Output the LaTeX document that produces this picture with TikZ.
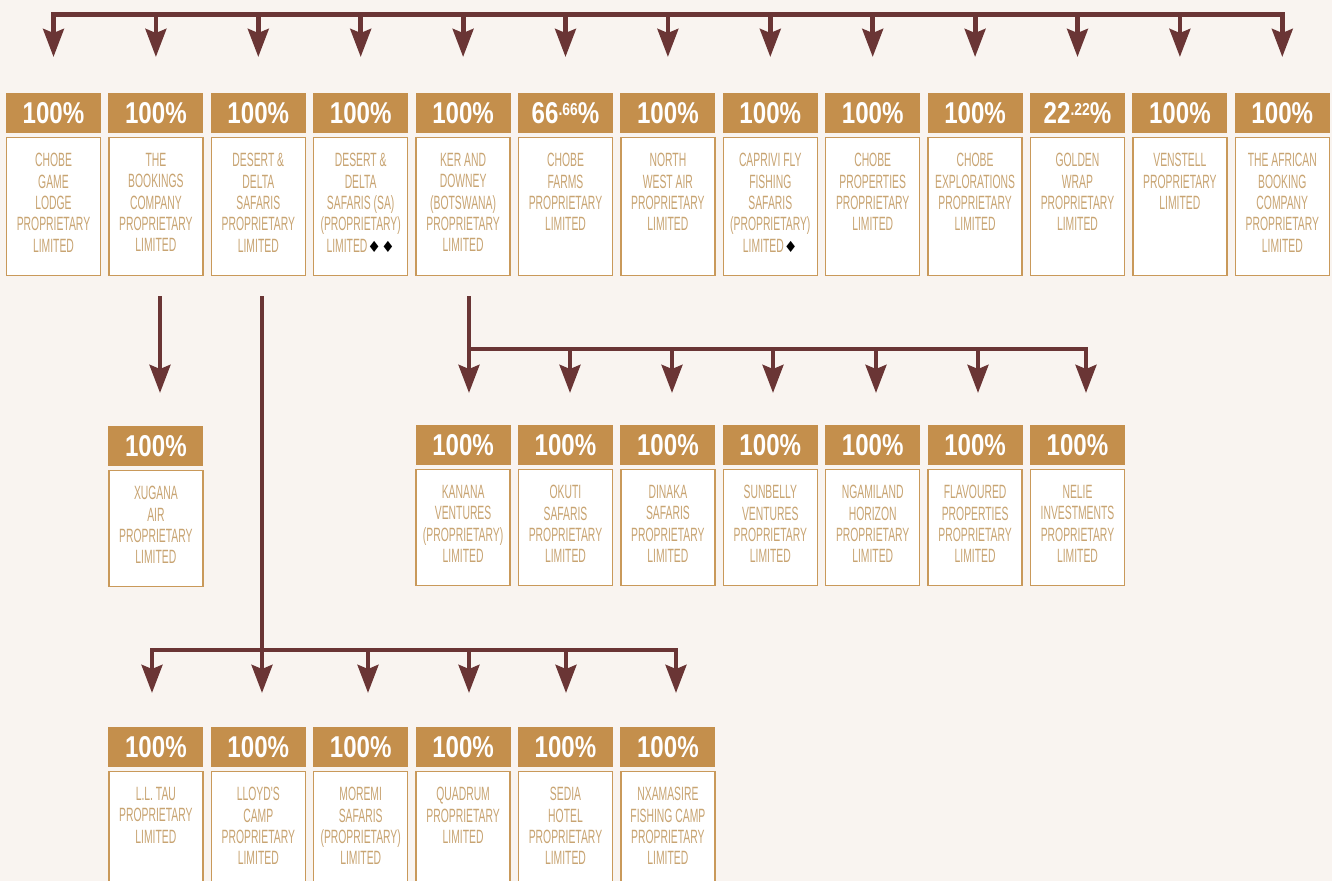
\documentclass[tikz,border=0pt]{standalone}
\usepackage{fontspec}
\usetikzlibrary{arrows.meta}
\newfontfamily\bodyfont[FakeStretch=0.54]{Liberation Sans}
\newfontfamily\hdrfont[FakeStretch=0.8]{Liberation Sans}
\newfontfamily\symfont{DejaVu Sans}
\definecolor{bgc}{HTML}{F9F4F0}
\definecolor{hdrc}{HTML}{C48F4C}
\definecolor{boxc}{HTML}{C9995A}
\definecolor{txtc}{HTML}{C8A472}
\definecolor{arrc}{HTML}{6A3535}
\newcommand\pctsup[1]{\raisebox{6.3pt}{\fontsize{13}{13}\selectfont #1}}
\newcommand\dmd[1]{{\symfont\fontsize{11.5}{11}\selectfont\color{black}#1}}
\tikzset{
 hdr/.style={anchor=north, fill=hdrc, minimum width=71.25pt, minimum height=30pt, inner sep=0pt, text=white, font=\hdrfont\bfseries\fontsize{22.6}{24}\selectfont},
 bodybox/.style={anchor=north, draw=boxc, fill=white, line width=1.1pt, minimum width=70.5pt, inner sep=0pt},
 bodytxt/.style={anchor=north, align=center, inner sep=0pt, text=txtc, font=\bodyfont\fontsize{14.4}{16}\selectfont},
 conn/.style={draw=arrc, line width=3.6pt},
 arr/.style={conn, -{Stealth[length=21pt,width=15.5pt,inset=3pt]}},
}
% name, x, header top y, body height, pct, text
\newcommand\cbox[6]{%
  \node[hdr] (#1h) at (#2,#3) {#5};
  \node[bodybox, minimum height=#4] (#1) at (#2,#3+44) {};
  \node[bodytxt] (#1t) at (#2,#3+60) {#6};
}
\begin{document}
\begin{tikzpicture}[x=0.75pt,y=-0.75pt]
\clip (0,0) rectangle (1332,881);
\fill[bgc] (0,0) rectangle (1332,881);
% top row
\cbox{c0}{53.5}{93}{103.5pt}{100\%}{CHOBE\\GAME\\LODGE\\PROPRIETARY\\LIMITED}
\cbox{c1}{155.9}{93}{103.5pt}{100\%}{THE\\BOOKINGS\\COMPANY\\PROPRIETARY\\LIMITED}
\cbox{c2}{258.3}{93}{103.5pt}{100\%}{DESERT \&\\DELTA\\SAFARIS\\PROPRIETARY\\LIMITED}
\cbox{c3}{360.7}{93}{103.5pt}{100\%}{DESERT \&\\DELTA\\SAFARIS (SA)\\(PROPRIETARY)\\LIMITED\dmd{♦♦}}
\cbox{c4}{463.1}{93}{103.5pt}{100\%}{KER AND\\DOWNEY\\(BOTSWANA)\\PROPRIETARY\\LIMITED}
\cbox{c5}{565.5}{93}{103.5pt}{66\pctsup{.66}\%}{CHOBE\\FARMS\\PROPRIETARY\\LIMITED}
\cbox{c6}{667.9}{93}{103.5pt}{100\%}{NORTH\\WEST AIR\\PROPRIETARY\\LIMITED}
\cbox{c7}{770.3}{93}{103.5pt}{100\%}{CAPRIVI FLY\\FISHING\\SAFARIS\\(PROPRIETARY)\\LIMITED\dmd{♦}}
\cbox{c8}{872.7}{93}{103.5pt}{100\%}{CHOBE\\PROPERTIES\\PROPRIETARY\\LIMITED}
\cbox{c9}{975.1}{93}{103.5pt}{100\%}{CHOBE\\EXPLORATIONS\\PROPRIETARY\\LIMITED}
\cbox{c10}{1077.5}{93}{103.5pt}{22\pctsup{.22}\%}{GOLDEN\\WRAP\\PROPRIETARY\\LIMITED}
\cbox{c11}{1179.9}{93}{103.5pt}{100\%}{VENSTELL\\PROPRIETARY\\LIMITED}
\cbox{c12}{1282.3}{93}{103.5pt}{100\%}{THE AFRICAN\\BOOKING\\COMPANY\\PROPRIETARY\\LIMITED}
% xugana
\cbox{x1}{155.9}{426}{87pt}{100\%}{XUGANA\\AIR\\PROPRIETARY\\LIMITED}
% middle row
\cbox{m4}{463.1}{425}{87pt}{100\%}{KANANA\\VENTURES\\(PROPRIETARY)\\LIMITED}
\cbox{m5}{565.5}{425}{87pt}{100\%}{OKUTI\\SAFARIS\\PROPRIETARY\\LIMITED}
\cbox{m6}{667.9}{425}{87pt}{100\%}{DINAKA\\SAFARIS\\PROPRIETARY\\LIMITED}
\cbox{m7}{770.3}{425}{87pt}{100\%}{SUNBELLY\\VENTURES\\PROPRIETARY\\LIMITED}
\cbox{m8}{872.7}{425}{87pt}{100\%}{NGAMILAND\\HORIZON\\PROPRIETARY\\LIMITED}
\cbox{m9}{975.1}{425}{87pt}{100\%}{FLAVOURED\\PROPERTIES\\PROPRIETARY\\LIMITED}
\cbox{m10}{1077.5}{425}{87pt}{100\%}{NELIE\\INVESTMENTS\\PROPRIETARY\\LIMITED}
% bottom row
\cbox{d1}{155.9}{727}{125pt}{100\%}{L.L. TAU\\PROPRIETARY\\LIMITED}
\cbox{d2}{258.3}{727}{125pt}{100\%}{LLOYD'S\\CAMP\\PROPRIETARY\\LIMITED}
\cbox{d3}{360.7}{727}{125pt}{100\%}{MOREMI\\SAFARIS\\(PROPRIETARY)\\LIMITED}
\cbox{d4}{463.1}{727}{125pt}{100\%}{QUADRUM\\PROPRIETARY\\LIMITED}
\cbox{d5}{565.5}{727}{125pt}{100\%}{SEDIA\\HOTEL\\PROPRIETARY\\LIMITED}
\cbox{d6}{667.9}{727}{125pt}{100\%}{NXAMASIRE\\FISHING CAMP\\PROPRIETARY\\LIMITED}
% top connectors
\coordinate (tL) at (53.5,14.5);
\coordinate (tR) at (1282.3,14.5);
\draw[conn, line cap=rect] (tL) -- (tR);
\foreach \n in {c0,c1,c2,c3,c4,c5,c6,c7,c8,c9,c10,c11,c12}{
  \draw[arr, shorten >=27pt] (\n h.north |- tL) -- (\n h.north);
}
% Bookings -> Xugana
\coordinate (s1) at (160,296);
\draw[arr, shorten >=24.75pt] (s1) -- (s1 |- x1h.north);
% Desert & Delta -> bottom row
\coordinate (s2) at (262,296);
\coordinate (b2) at (262,650);
\coordinate (bL) at (152,650);
\coordinate (bR) at (676,650);
\draw[conn] (s2) -- (b2);
\draw[conn, line cap=rect] (bL) -- (bR);
\foreach \xx/\n in {152/d1,262/d2,368/d3,469/d4,566/d5,676/d6}{
  \coordinate (bp) at (\xx,650);
  \draw[arr, shorten >=25.5pt] (bp) -- (bp |- \n h.north);
}
% Ker and Downey -> middle row
\coordinate (s4) at (469,296);
\coordinate (mL) at (469,349);
\coordinate (mR) at (1086,349);
\draw[conn, line cap=rect] (mL) -- (mR);
\draw[arr, shorten >=24pt] (s4) -- (s4 |- m4h.north);
\foreach \xx/\n in {570/m5,672/m6,773/m7,876/m8,978/m9,1086/m10}{
  \coordinate (mp) at (\xx,349);
  \draw[arr, shorten >=24pt] (mp) -- (mp |- \n h.north);
}
\end{tikzpicture}
\end{document}
